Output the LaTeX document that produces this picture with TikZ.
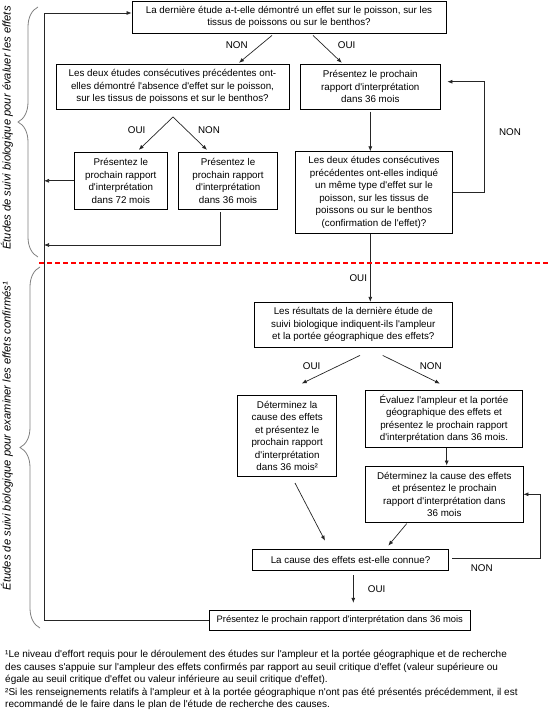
\documentclass[tikz,border=0pt]{standalone}
\usepackage{fontspec}
\newfontfamily\arial{Liberation Sans}
\usetikzlibrary{arrows.meta,decorations.pathreplacing}

\begin{document}
\begin{tikzpicture}[x=1pt,y=-1pt,
  every node/.style={font={\arial\fontsize{9.8}{12.5}\selectfont}},
  box/.style={draw,line width=0.8pt,align=center,inner sep=0pt},
  arr/.style={draw=black!85,line width=0.7pt,-{Latex[length=5pt,width=4pt]}},
  lab/.style={inner sep=0pt},
  side/.style={inner sep=0pt,rotate=90,font={\arial\fontsize{11.2}{12.5}\selectfont\itshape}},
  brc/.style={draw=gray,line width=0.8pt,decorate,decoration={brace,amplitude=20pt,aspect=#1}}]

\useasboundingbox (0,0) rectangle (550,711);

\node[box,minimum width=314,minimum height=32] (q1) at (289,17) {La dernière étude a-t-elle démontré un effet sur le poisson, sur les\\tissus de poissons ou sur le benthos?};
\node[box,minimum width=233,minimum height=45] (qa) at (172.5,86.7) {Les deux études consécutives précédentes ont-\\elles démontré l'absence d'effet sur le poisson,\\sur les tissus de poissons et sur le benthos?};
\node[box,minimum width=139.3,minimum height=45] (pb) at (370.3,86.7) {Présentez le prochain\\rapport d'interprétation\\dans 36 mois};
\node[box,minimum width=93,minimum height=57] (p72) at (120.8,180.8) {Présentez le\\prochain rapport\\d'interprétation\\dans 72 mois};
\node[box,minimum width=99.4,minimum height=57] (p36) at (228,180.8) {Présentez le\\prochain rapport\\d'interprétation\\dans 36 mois};
\node[box,minimum width=156.6,minimum height=81.6] (qe) at (374,192.5) {Les deux études consécutives\\précédentes ont-elles indiqué\\un même type d'effet sur le\\poisson, sur les tissus de\\poissons ou sur le benthos\\(confirmation de l'effet)?};
\node[box,minimum width=198,minimum height=45] (qf) at (353.3,324.8) {Les résultats de la dernière étude de\\suivi biologique indiquent-ils l'ampleur\\et la portée géographique des effets?};
\node[box,minimum width=99,minimum height=80.3] (dg) at (287.2,435.8) {Déterminez la\\cause des effets\\et présentez le\\prochain rapport\\d'interprétation\\dans 36 mois²};
\node[box,minimum width=156.6,minimum height=57.3] (eh) at (444,418.7) {Évaluez l'ampleur et la portée\\géographique des effets et\\présentez le prochain rapport\\d'interprétation dans 36 mois.};
\node[box,minimum width=157.3,minimum height=56.7] (di) at (444.3,494.3) {Déterminez la cause des effets\\et présentez le prochain\\rapport d'interprétation dans\\36 mois};
\node[box,minimum width=195.6,minimum height=20.7] (qj) at (350.5,559.7) {La cause des effets est-elle connue?};
\node[box,minimum width=261.7,minimum height=19.3,font={\arial\fontsize{9.4}{12.5}\selectfont}] (pk) at (339.8,620.3) {Présentez le prochain rapport d'interprétation dans 36 mois};

\foreach \nm/\px/\py/\tx in {n1/236.7/45/NON,o1/346.7/45/OUI,o2/136.7/130/OUI,n2/209/130/NON,n3/510/131.7/NON,o3/358.3/278.3/OUI,o4/311.7/366/OUI,n4/430.7/366/NON,n5/481.7/568.3/NON,o5/376.7/589.3/OUI}
  \node[lab] (\nm) at (\px,\py) {\tx};

\coordinate (lt) at (44,13);
\coordinate (lb) at (44,620.3);
\coordinate (ap) at (173,117);
\coordinate (d1) at (220,245);
\coordinate (r1) at (484,192.5);
\coordinate (r2) at (484,81.7);
\coordinate (r3) at (540,558.3);
\coordinate (r4) at (540,494.3);

\draw[arr] (pk.west) -- (lb) -- (lt) -- (lt -| q1.west);
\draw[arr] ([xshift=-17pt,yshift=-2pt]q1.south) -- ([xshift=66.5pt,yshift=1pt]qa.north);
\draw[arr] ([xshift=24pt,yshift=-2pt]q1.south) -- ([xshift=-28.5pt,yshift=1pt]pb.north);
\draw[arr] (ap) -- ([xshift=18pt,yshift=2pt]p72.north);
\draw[arr] (ap) -- ([xshift=-21pt,yshift=2pt]p36.north);
\draw[arr] (p72.west) -- (p72.west -| lt);
\draw[arr] ([xshift=-8pt,yshift=-2.4pt]p36.south) -- (d1) -- (d1 -| lt);
\draw[arr] ([yshift=-2pt]pb.south) -- (pb.south |- qe.north);
\draw[arr] (qe.east) -- (r1) -- (r2) -- ([xshift=7pt,yshift=5pt]pb.east);
\draw[arr] (qe.south -| pb.south) -- (qf.north -| pb.south);
\draw[arr] ([xshift=6.7pt,yshift=-7.7pt]qf.south) -- ([xshift=14.5pt,yshift=11.7pt]dg.north);
\draw[arr] ([xshift=29.4pt,yshift=-7.7pt]qf.south) -- ([xshift=-4pt,yshift=6pt]eh.north);
\draw[arr] ([xshift=2.7pt]eh.south) -- ([xshift=2.4pt]di.north);
\draw[arr] ([xshift=7.8pt,yshift=-6.7pt]dg.south) -- ([xshift=-25.5pt,yshift=8.3pt]qj.north);
\draw[arr] ([xshift=-37.6pt,yshift=-0.6pt]di.south) -- ([xshift=37.8pt,yshift=3.3pt]qj.north);
\draw[arr] ([xshift=3.4pt,yshift=1.4pt]qj.east) -- (r3) -- (r4) -- (di.east);
\draw[arr] ([xshift=2.8pt,yshift=-5pt]qj.south) -- ([xshift=13.5pt,yshift=7.4pt]pk.north);

\draw[color=red,line width=1.3pt,dash pattern=on 5pt off 3pt] (39,263) -- (550,263);

\draw[brc=0.54] (38,257) -- (38,7);
\draw[brc=0.5] (40,628) -- (40,267);
\node[side] (s1) at (7,128) {Études de suivi biologique pour évaluer les effets};
\node[side] (s2) at (7,436) {Études de suivi biologique pour examiner les effets confirmés¹};

\node[lab,align=left,anchor=north west,font={\arial\fontsize{10}{12.5}\selectfont}] (fn) at (5,650) {¹Le niveau d'effort requis pour le déroulement des études sur l'ampleur et la portée géographique et de recherche\\des causes s'appuie sur l'ampleur des effets confirmés par rapport au seuil critique d'effet (valeur supérieure ou\\égale au seuil critique d'effet ou valeur inférieure au seuil critique d'effet).\\²Si les renseignements relatifs à l'ampleur et à la portée géographique n'ont pas été présentés précédemment, il est\\recommandé de le faire dans le plan de l'étude de recherche des causes.};

\end{tikzpicture}
\end{document}
